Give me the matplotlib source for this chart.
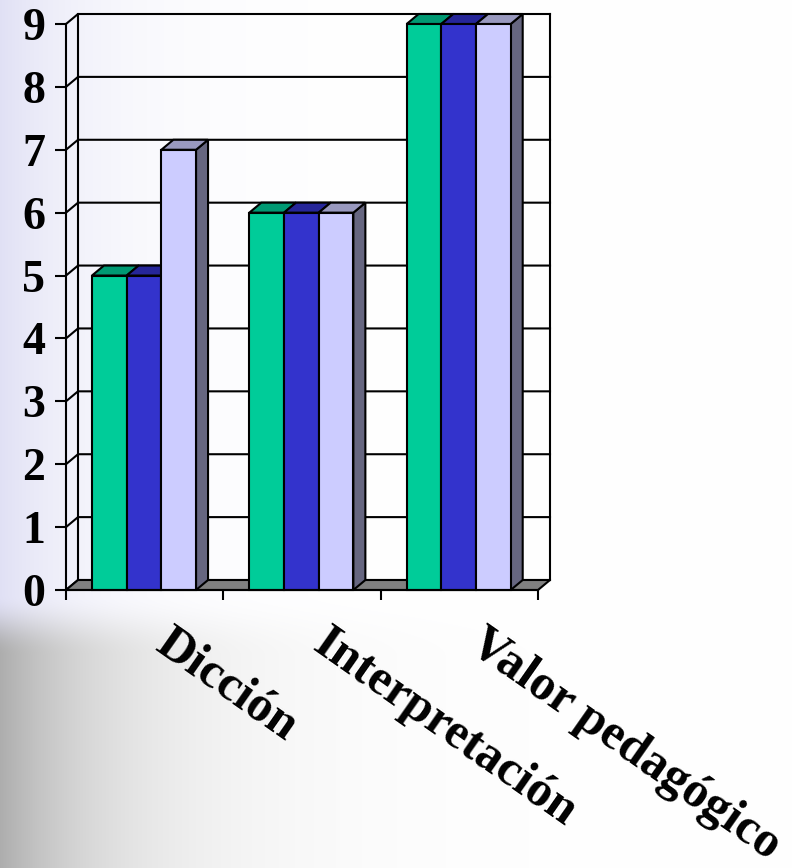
import numpy as np
import matplotlib
matplotlib.use('Agg')
import matplotlib.pyplot as plt
from matplotlib.patches import Polygon

categories = ['Dicción', 'Interpretación', 'Valor pedagógico']
serie1 = [5, 6, 9]
serie2 = [5, 6, 9]
serie3 = [7, 6, 9]
y_ticks = list(range(10))

colors = ['#00CC99', '#3333CC', '#CCCCFF']
tops = ['#009973', '#262699', '#9999BF']
sides = ['#006650', '#1A1A66', '#666680']

W, H = 792, 868
fig = plt.figure(figsize=(W / 100, H / 100), dpi=100)

# background gradient (lavender on top-left, gray on bottom-left, white to the right)
bg = fig.add_axes([0, 0, 1, 1], zorder=0)
xx = np.arange(W)[None, :].astype(float)
yy = np.arange(H)[:, None].astype(float)
w_lav = np.exp(-xx / 90.0)
w_gry = np.exp(-xx / 120.0)
lav = np.array([0.88, 0.88, 0.96])
gry = np.array([0.68, 0.68, 0.68])
v = np.clip((yy - 595) / 60.0, 0, 1)
v = (v * v * (3 - 2 * v))[..., None]
c_lav = 1 - (1 - lav) * w_lav[..., None]
c_gry = 1 - (1 - gry) * w_gry[..., None]
img = c_lav * (1 - v) + c_gry * v
bg.imshow(img, aspect='auto', extent=[0, 1, 0, 1])
bg.axis('off')

# front plane: x 0..3 -> px 66..538, y 0..9 -> px 590..24 (from top)
ax = fig.add_axes([66 / W, (H - 590) / H, 472 / W, 566 / H], zorder=1)
ax.set_facecolor('none')
ax.set_xlim(0, 3)
ax.set_ylim(0, 9)
dx, dy = 12 / 157.33, 10 / 62.9
lw = 1.5
n = len(categories)

# back wall grid and edges
for k in y_ticks:
    ax.plot([0, dx, n + dx], [k, k + dy, k + dy], color='black', lw=lw, clip_on=False, zorder=1)
ax.plot([dx, dx], [dy, 9 + dy], color='black', lw=lw, clip_on=False, zorder=1)
ax.plot([n + dx, n + dx], [dy, 9 + dy], color='black', lw=lw, clip_on=False, zorder=1)

# floor
ax.add_patch(Polygon([(0, 0), (n, 0), (n + dx, dy), (dx, dy)], closed=True,
                     facecolor='#808080', edgecolor='black', lw=lw, clip_on=False, zorder=2))

# 3d bars
bw = 0.2205
off = 0.165
series = [serie1, serie2, serie3]
z = 3
for i in range(n):
    for j, vals in enumerate(series):
        x0 = i + off + j * bw
        h = vals[i]
        ax.add_patch(Polygon([(x0 + bw, 0), (x0 + bw + dx, dy), (x0 + bw + dx, h + dy), (x0 + bw, h)],
                             closed=True, facecolor=sides[j], edgecolor='black', lw=lw,
                             clip_on=False, zorder=z))
        ax.add_patch(Polygon([(x0, h), (x0 + bw, h), (x0 + bw + dx, h + dy), (x0 + dx, h + dy)],
                             closed=True, facecolor=tops[j], edgecolor='black', lw=lw,
                             clip_on=False, zorder=z))
        b = ax.bar(x0, h, width=bw, align='edge', color=colors[j], edgecolor='black', lw=lw, zorder=z + 0.5)
        b[0].set_clip_on(False)
        z += 1

for s in ['top', 'right']:
    ax.spines[s].set_visible(False)
for s in ['left', 'bottom']:
    ax.spines[s].set_linewidth(lw)
    ax.spines[s].set_zorder(50)

font = 'Liberation Serif'
ax.set_yticks(y_ticks)
ax.set_yticklabels([str(k) for k in y_ticks], fontsize=33, fontweight='bold', family=font)
ax.set_xticks(range(n + 1))
ax.set_xticklabels([])
ax.tick_params(axis='y', length=8, width=lw, pad=7)
ax.tick_params(axis='x', length=7, width=lw)

for i, c in enumerate(categories):
    ax.text(i + 0.68, -0.48, c, rotation=-35, rotation_mode='anchor', ha='left', va='top',
            fontsize=36, fontweight='bold', family=font, clip_on=False)

fig.savefig('out.png', dpi=100)
